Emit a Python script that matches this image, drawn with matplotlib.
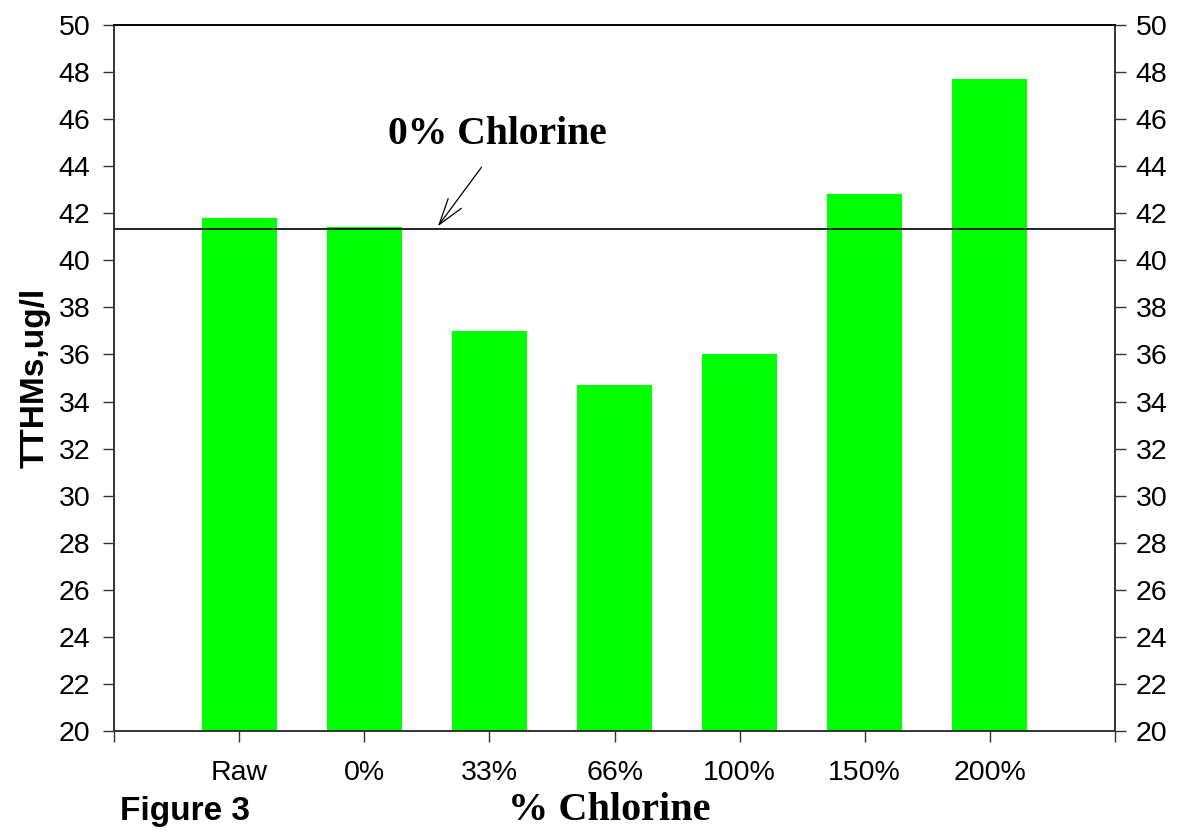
import matplotlib
matplotlib.use('Agg')
import matplotlib.pyplot as plt
import numpy as np

categories = ['Raw', '0%', '33%', '66%', '100%', '150%', '200%']
tthms = [41.8, 41.4, 37.0, 34.7, 36.0, 42.8, 47.7]
zero_chlorine_level = 41.35
y_ticks = list(range(20, 51, 2))

sans = ['Liberation Sans', 'DejaVu Sans']
serif = ['Liberation Serif', 'DejaVu Serif']

fig = plt.figure(figsize=(11.77, 8.38), dpi=100)
ax = fig.add_axes([0.0969, 0.1277, 0.8504, 0.8425])

x = np.arange(len(categories))
ax.bar(x, [v - 20 for v in tthms], bottom=20, width=0.6, color='#00ff00', zorder=2)
ax.axhline(zero_chlorine_level, color='black', lw=1.2, zorder=3)

ax.set_xlim(-1, len(categories))
ax.set_ylim(20, 50)
ax.set_xticks(list(range(-1, len(categories) + 1)))
ax.set_xticklabels([''] + categories + [''], family=sans, fontsize=20.5)
ax.set_yticks(y_ticks)
ax.set_yticklabels([str(t) for t in y_ticks], family=sans, fontsize=20.5)
ax.tick_params(axis='both', direction='out', length=8, width=1, color='#333333')
ax.tick_params(axis='y', pad=9)
ax.tick_params(axis='x', pad=13)

ax2 = ax.twinx()
ax2.set_ylim(20, 50)
ax2.set_yticks(y_ticks)
ax2.set_yticklabels([str(t) for t in y_ticks], family=sans, fontsize=20.5)
ax2.tick_params(axis='y', direction='out', length=8, width=1, color='#333333', pad=7)

for a in (ax, ax2):
    for s in a.spines.values():
        s.set_linewidth(1.2)
        s.set_color('#333333')
    a.spines['top'].set_color('black')

ax.set_ylabel('TTHMs,ug/l', family=sans, fontsize=24, fontweight='bold', labelpad=6)

# arrow pointing at the 0% line
ax.annotate('', xy=(1.575, zero_chlorine_level), xytext=(1.95, 44.05),
            arrowprops=dict(arrowstyle='->, head_length=0.45, head_width=0.14',
                            color='black', lw=0.9, mutation_scale=42), zorder=4)
ax.text(2.06, 45.33, '0% Chlorine', family=serif, fontsize=28.5, fontweight='bold',
        ha='center', va='center')

fig.text(0.518, 0.022, '% Chlorine', family=serif, fontsize=29, fontweight='bold',
         ha='center', va='baseline')
fig.text(0.102, 0.022, 'Figure 3', family=sans, fontsize=24, fontweight='bold',
         ha='left', va='baseline')

fig.savefig('out.png', dpi=100)
